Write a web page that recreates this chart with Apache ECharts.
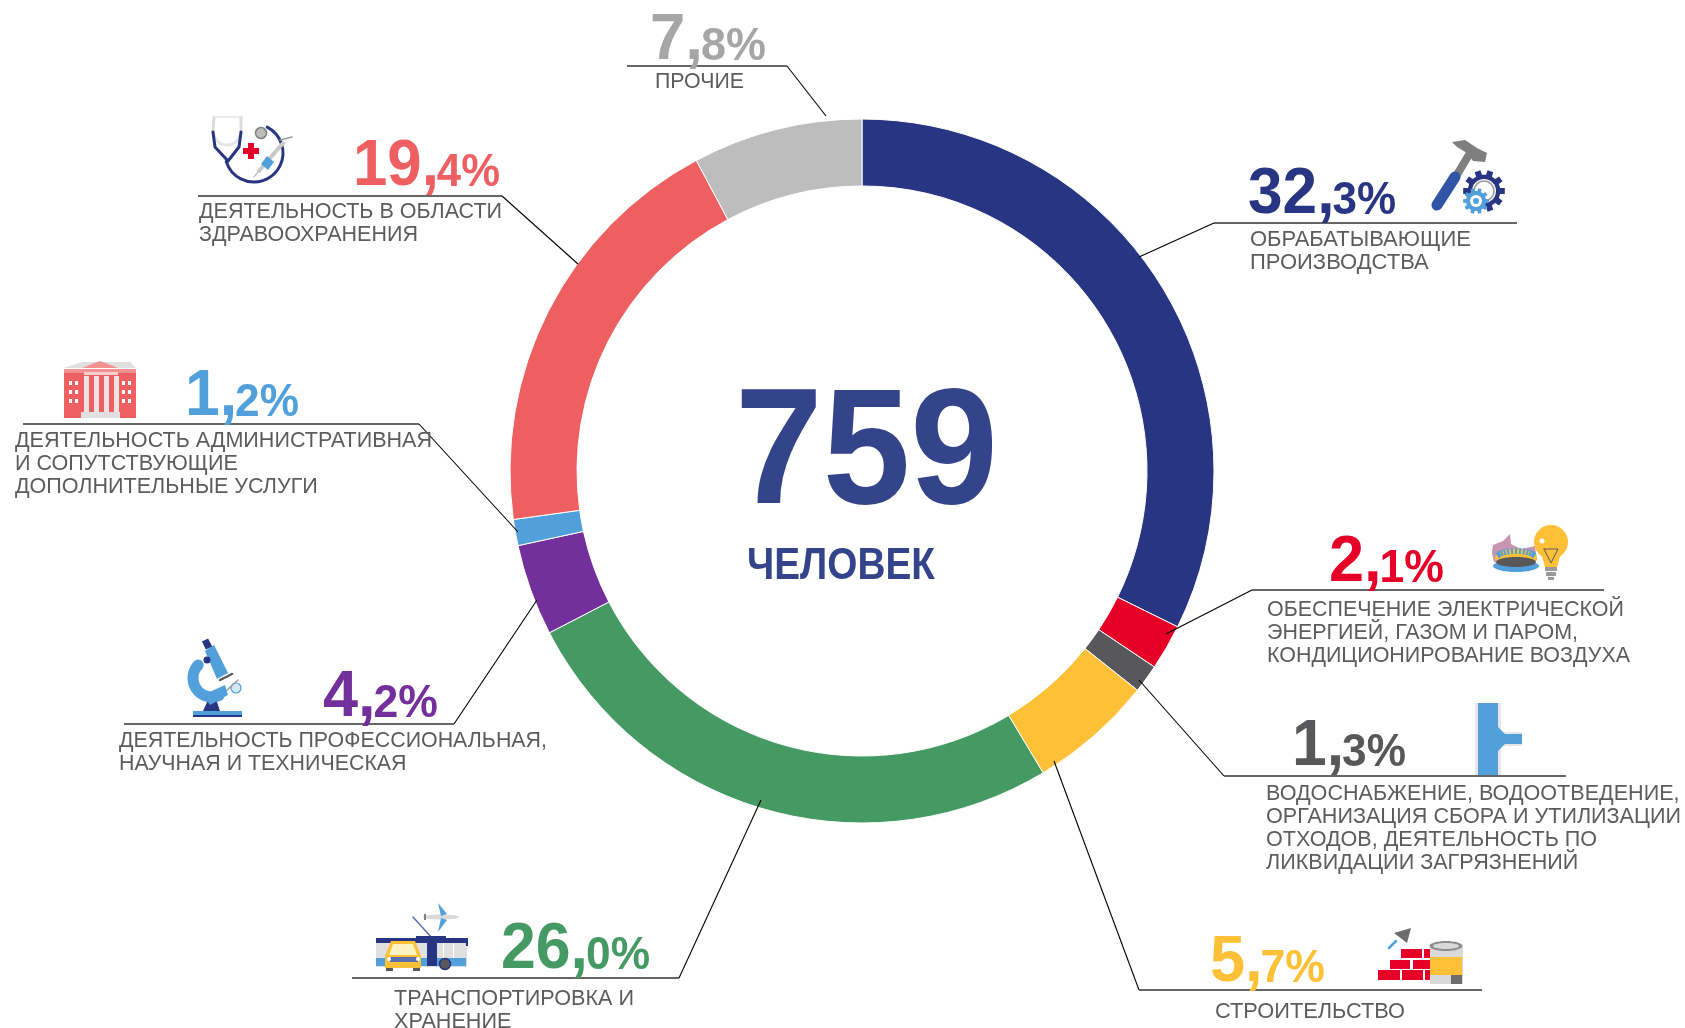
<!DOCTYPE html>
<html>
<head>
<meta charset="utf-8">
<title>759 человек</title>
<style>
    html,body{margin:0;padding:0;background:#fff;}
    #main{width:1685px;height:1028px;}
</style>
<script src="https://cdn.jsdelivr.net/npm/echarts@6/dist/echarts.min.js"></script>
</head>
<body>
<div id="main"></div>
<script>
// данные
var categories = [
    'ОБРАБАТЫВАЮЩИЕ\nПРОИЗВОДСТВА',
    'ОБЕСПЕЧЕНИЕ ЭЛЕКТРИЧЕСКОЙ\nЭНЕРГИЕЙ, ГАЗОМ И ПАРОМ,\nКОНДИЦИОНИРОВАНИЕ ВОЗДУХА',
    'ВОДОСНАБЖЕНИЕ, ВОДООТВЕДЕНИЕ,\nОРГАНИЗАЦИЯ СБОРА И УТИЛИЗАЦИИ\nОТХОДОВ, ДЕЯТЕЛЬНОСТЬ ПО\nЛИКВИДАЦИИ ЗАГРЯЗНЕНИЙ',
    'СТРОИТЕЛЬСТВО',
    'ТРАНСПОРТИРОВКА И\nХРАНЕНИЕ',
    'ДЕЯТЕЛЬНОСТЬ ПРОФЕССИОНАЛЬНАЯ,\nНАУЧНАЯ И ТЕХНИЧЕСКАЯ',
    'ДЕЯТЕЛЬНОСТЬ АДМИНИСТРАТИВНАЯ\nИ СОПУТСТВУЮЩИЕ\nДОПОЛНИТЕЛЬНЫЕ УСЛУГИ',
    'ДЕЯТЕЛЬНОСТЬ В ОБЛАСТИ\nЗДРАВООХРАНЕНИЯ',
    'ПРОЧИЕ'
];
var values = [32.3, 2.1, 1.3, 5.7, 26.0, 4.2, 1.2, 19.4, 7.8];
var totalPeople = '759';
var totalUnit = 'ЧЕЛОВЕК';

var colors = ['#273582', '#e60028', '#58585a', '#fec036', '#459a64', '#732f9b', '#52a0db', '#ed5f60', '#bdbdbd'];
var pctColors = ['#273582', '#e60028', '#58585a', '#fec036', '#459a64', '#732f9b', '#52a0db', '#ed5f60', '#a6a6a6'];

// раскладка подписей: x,baseline,ширина процента
var pctPos = [[1248,216,148],[1329,584,115],[1292,768,114],[1210,984,115],[501,971,149],[323,719,115],[185,418,114],[353,188,147],[650,62,116]];
// подпись: x, центр первой строки, ширина самой длинной строки
var textPos = [[1250,240,221],[1267,610,363],[1266,794,415],[1215,1012,190],[394,999,240],[119,741,428],[15,441,417],[199,212,303],[655,82,89]];
// выноски: точка на кольце, излом, конец полки
var leaders = [
    [[1139,257],[1214,223],[1517,223]],
    [[1166,634],[1252,590],[1604,590]],
    [[1139,680],[1224,776],[1566,776]],
    [[1054,761],[1139,990],[1482,990]],
    [[761,800],[679,978],[352,978]],
    [[537,600],[454,724],[124,724]],
    [[518,532],[419,424],[23,424]],
    [[578,264],[502,196],[198,196]],
    [[826,116],[787,66],[627,66]]
];

var FONT = '"Liberation Sans", Arial, sans-serif';
var measure = document.createElement('canvas').getContext('2d');
function textWidth(str, font){
    measure.font = font;
    return measure.measureText(str).width;
}

var graphics = [];

// --- выноски
function addLeaders(){
    for(var i = 0; i < leaders.length; i++){
        var l = leaders[i];
        graphics.push({type:'polyline',silent:true,z:5,shape:{points:[l[0],l[1]]},style:{stroke:'#000',lineWidth:1.1,fill:null}});
        graphics.push({type:'polyline',silent:true,z:5,shape:{points:[l[1],l[2]]},style:{stroke:'#333',lineWidth:1.5,fill:null}});
    }
}

// --- проценты и подписи
function addLabels(){
    var bigFont = 'bold 65px ' + FONT, smallFont = 'bold 46px ' + FONT;
    var commaW = 16;
    for(var i = 0; i < values.length; i++){
        var parts = values[i].toFixed(1).split('.');
        var small = parts[1] + '%';
        var p = pctPos[i];
        var natural = textWidth(parts[0], bigFont) + commaW + textWidth(small, smallFont);
        graphics.push({
            type:'text',silent:true,z:6,x:p[0],y:p[1] - 61,scaleX:p[2] / natural,originX:0,originY:0,
            style:{
                text:'{b|' + parts[0] + '}{c|,}{s|' + small + '}',
                textAlign:'left',verticalAlign:'top',
                rich:{
                    b:{font:bigFont,fill:pctColors[i],lineHeight:80},
                    c:{font:bigFont,fill:pctColors[i],lineHeight:80,width:commaW},
                    s:{font:smallFont,fill:pctColors[i],lineHeight:80,padding:[13,0,0,0]}
                }
            }
        });
        var t = textPos[i], lines = categories[i].split('\n'), maxW = 0;
        var font = '22px ' + FONT;
        for(var j = 0; j < lines.length; j++){
            maxW = Math.max(maxW, textWidth(lines[j], font));
        }
        graphics.push({
            type:'text',silent:true,z:6,x:t[0],y:t[1] - 11.5,scaleX:t[2] / maxW,originX:0,originY:0,
            style:{text:categories[i],font:font,fill:'#5c5c5c',lineHeight:23,textAlign:'left',verticalAlign:'top'}
        });
    }
}

// --- центр
function addCenter(){
    var f1 = 'bold 165px ' + FONT, f2 = 'bold 44px ' + FONT;
    graphics.push({type:'text',silent:true,z:6,x:735,y:457,scaleX:263 / textWidth(totalPeople, f1),originX:0,originY:0,
        style:{text:totalPeople,font:f1,fill:'#34448a',textAlign:'left',verticalAlign:'middle'}});
    graphics.push({type:'text',silent:true,z:6,x:747,y:567,scaleX:188 / textWidth(totalUnit, f2),originX:0,originY:0,
        style:{text:totalUnit,font:f2,fill:'#34448a',textAlign:'left',verticalAlign:'middle'}});
}

// --- иконки
function R(x,y,w,h,c){graphics.push({type:'rect',silent:true,z:4,shape:{x:x,y:y,width:w,height:h},style:{fill:c}});}
function C(x,y,r,c,stroke,lw){graphics.push({type:'circle',silent:true,z:4,shape:{cx:x,cy:y,r:r},style:{fill:c,stroke:stroke||null,lineWidth:lw||0}});}
function E(x,y,rx,ry,c){graphics.push({type:'ellipse',silent:true,z:4,shape:{cx:x,cy:y,rx:rx,ry:ry},style:{fill:c}});}
function P(pts,c){graphics.push({type:'polygon',silent:true,z:4,shape:{points:pts},style:{fill:c}});}
function L(pts,c,lw,cap){graphics.push({type:'polyline',silent:true,z:4,shape:{points:pts},style:{stroke:c,lineWidth:lw,fill:null,lineCap:cap||'round',lineJoin:'round'}});}
function A(x,y,r,a0,a1,c,lw){graphics.push({type:'arc',silent:true,z:4,shape:{cx:x,cy:y,r:r,startAngle:a0,endAngle:a1,clockwise:true},style:{stroke:c,lineWidth:lw,fill:null,lineCap:'round'}});}
function gear(cx,cy,r,teeth,c){
    var pts = [];
    for(var i = 0; i < teeth; i++){
        var a = i / teeth * Math.PI * 2, s = Math.PI / teeth;
        pts.push([cx + r * Math.cos(a - s * 0.45), cy + r * Math.sin(a - s * 0.45)]);
        pts.push([cx + r * Math.cos(a + s * 0.45), cy + r * Math.sin(a + s * 0.45)]);
        pts.push([cx + r * 0.78 * Math.cos(a + s * 0.6), cy + r * 0.78 * Math.sin(a + s * 0.6)]);
        pts.push([cx + r * 0.78 * Math.cos(a + s * 1.4), cy + r * 0.78 * Math.sin(a + s * 1.4)]);
    }
    P(pts, c);
}
function addIcons(){
    // молоток и шестерни
    L([[1470,153],[1455,178]],'#7f7f7f',8,'butt');
    P([[1452,142],[1465,140],[1477,148],[1487,153],[1485,162],[1473,161],[1467,153],[1457,147]],'#7f7f7f');
    L([[1437,205],[1455,177]],'#2f55a4',11);
    gear(1484,191,21,10,'#273582');
    C(1484,191,12,'#fff');
    A(1484,191,10,0,6.28,'#9a9a9a',1.5);
    gear(1476,201,13,10,'#52a0db');
    C(1476,201,6,'#fff');
    C(1476,201,3,'#52a0db');

    // горелка и лампа
    P([[1492,553],[1493,545],[1503,541],[1510,534],[1511,544],[1521,549],[1535,546],[1537,560],[1505,565],[1494,562]],'#c895b3');
    E(1516,558,21,9,'#fec036');
    var fx;
    for(fx = 0; fx < 13; fx++){
        var ang = -0.25 - fx * 0.22;
        L([[1516 + 17 * Math.cos(ang),559 + 5 * Math.sin(ang)],[1516 + 20 * Math.cos(ang),554 + 6 * Math.sin(ang)]],'#52a0db',2,'butt');
    }
    E(1516,566,23,6,'#52a0db');
    E(1516,562,20,5,'#58585a');
    C(1551,542,17,'#fec036');
    P([[1541,553],[1561,553],[1557,567],[1545,567]],'#fec036');
    L([[1544,549],[1551,563],[1558,549],[1544,549]],'#58585a',1);
    R(1545,567,12,4,'#9a9a9a');
    R(1546,572,10,4,'#9a9a9a');
    R(1548,577,6,3,'#9a9a9a');
    C(1542,541,2.5,'#fff');

    // труба
    R(1475,703,26,72,'#e6e6e6');
    R(1498,732,24,14,'#e6e6e6');
    R(1478,703,20,72,'#52a0db');
    R(1498,734,24,10,'#52a0db');
    P([[1498,727],[1498,734],[1505,734]],'#52a0db');
    P([[1498,751],[1498,744],[1505,744]],'#52a0db');

    // кирпичи и банка
    var red = '#e60028';
    R(1378,970,22,10,red);R(1402,970,21,10,red);R(1425,970,6,10,red);
    R(1390,960,20,9,red);R(1413,960,17,9,red);
    R(1401,949,21,9,red);R(1424,949,7,9,red);
    L([[1389,948],[1396,941]],'#52a0db',2.5);
    P([[1394,933],[1411,928],[1407,943]],'#6d6d6d');
    R(1430,946,33,38,'#d9d9d9');
    R(1430,957,32,18,'#fec036');
    R(1451,975,11,9,'#6d6d6d');
    E(1446,946,16.5,5,'#8c8c8c');
    E(1446,946,13,3,'#d9d9d9');

    // транспорт
    L([[413,917],[432,938]],'#5a6fb0',1.5);
    E(441,917,18,2.5,'#d9d9d9');
    P([[438,903],[447,914],[441,916]],'#52a0db');
    P([[441,918],[447,920],[438,932]],'#52a0db');
    R(424,914,2,6,'#7f7f7f');
    R(376,940,91,27,'#e0e0e0');
    R(376,938,92,5,'#273582');
    R(416,936,30,6,'#273582');
    R(376,958,90,8,'#52a0db');
    R(427,941,10,25,'#273582');
    R(443,943,1,15,'#fff');
    R(453,943,1,15,'#fff');
    R(466,938,2,8,'#273582');
    C(445,964,5.5,'#58585a','#273582',1.5);
    P([[391,941],[415,941],[421,956],[421,968],[385,968],[385,956]],'#fec036');
    P([[393,944],[413,944],[417,955],[389,955]],'#fff3c4');
    R(390,957,28,5,'#5a6fb0');
    C(389,959,2,'#fff');C(418,959,2,'#fff');
    R(386,968,7,3,'#58585a');R(413,968,7,3,'#58585a');

    // микроскоп
    R(193,711,49,4,'#52a0db');
    R(193,715,49,2,'#273582');
    P([[203,711],[208,700],[216,699],[220,711]],'#273582');
    A(212,678,19,1.2,3.9,'#52a0db',11);
    P([[205,651],[214,645],[228,673],[217,679]],'#52a0db');
    L([[205,640],[209,648]],'#273582',7,'butt');
    C(207,660,3.5,'#273582');
    L([[220,680],[232,674]],'#58585a',2.5);
    C(236,688,5,'#d6e8f5','#52a0db',1.2);
    L([[226,691],[238,680]],'#9a9a9a',1.5);
    P([[203,695],[225,685],[228,695],[210,705]],'#52a0db');

    // здание
    R(64,371,72,47,'#ed5f60');
    R(64,369,72,4,'#f28f90');
    P([[82,362],[130,362],[136,368],[64,368]],'#e0e0e0');
    P([[100,361],[118,368],[82,368]],'#f28f90');
    R(84,372,34,3,'#f5d0d0');
    for(var c = 0; c < 4; c++){
        R(84 + c * 10, 376, 5, 36, '#f0e2e2');
    }
    R(81,412,39,6,'#e0e0e0');
    for(var wx = 0; wx < 2; wx++){
        for(var wy = 0; wy < 3; wy++){
            R(69 + wx * 6, 381 + wy * 9, 3, 4, '#fff');
            R(122 + wx * 6, 381 + wy * 9, 3, 4, '#fff');
        }
    }

    // стетоскоп, шприц
    L([[214,117],[213,130]],'#dcdcdc',3);
    L([[241,117],[241,130]],'#dcdcdc',3);
    L([[214,117],[241,117]],'#e6e6e6',1.5);
    A(227,131,14,0.05,Math.PI * 0.95,'#e6e6e6',3);
    L([[213,132],[215,147],[228,161]],'#273582',3);
    L([[241,132],[239,147],[228,161]],'#273582',3);
    A(254,153,29,-1.1,2.85,'#273582',3);
    C(261,133,5.5,'#bdbdbd','#7f7f7f',1.5);
    R(248,143,6,16,'#e60028');
    R(243,148,16,6,'#e60028');
    L([[254,177],[261,168]],'#9a9a9a',1);
    L([[258,172],[284,142]],'#c8c8c8',4,'butt');
    P([[261,164],[268,170],[274,162],[267,156]],'#52a0db');
    L([[280,140],[292,137]],'#9a9a9a',1.5);
}

addLeaders();
addLabels();
addCenter();
addIcons();

var pieData = [];
for(var k = 0; k < values.length; k++){
    pieData.push({name:categories[k],value:values[k],itemStyle:{color:colors[k]}});
}

var myChart = echarts.init(document.getElementById('main'));
var option = {
    backgroundColor:'#fff',
    animation:false,
    tooltip:{show:false},
    series:[{
        type:'pie',
        center:[862,471],
        radius:[285,352],
        startAngle:90,
        clockwise:true,
        avoidLabelOverlap:false,
        silent:true,
        label:{show:false},
        labelLine:{show:false},
        itemStyle:{borderColor:'#fff',borderWidth:1},
        data:pieData
    }],
    graphic:{elements:graphics}
};
myChart.setOption(option);
</script>
</body>
</html>
